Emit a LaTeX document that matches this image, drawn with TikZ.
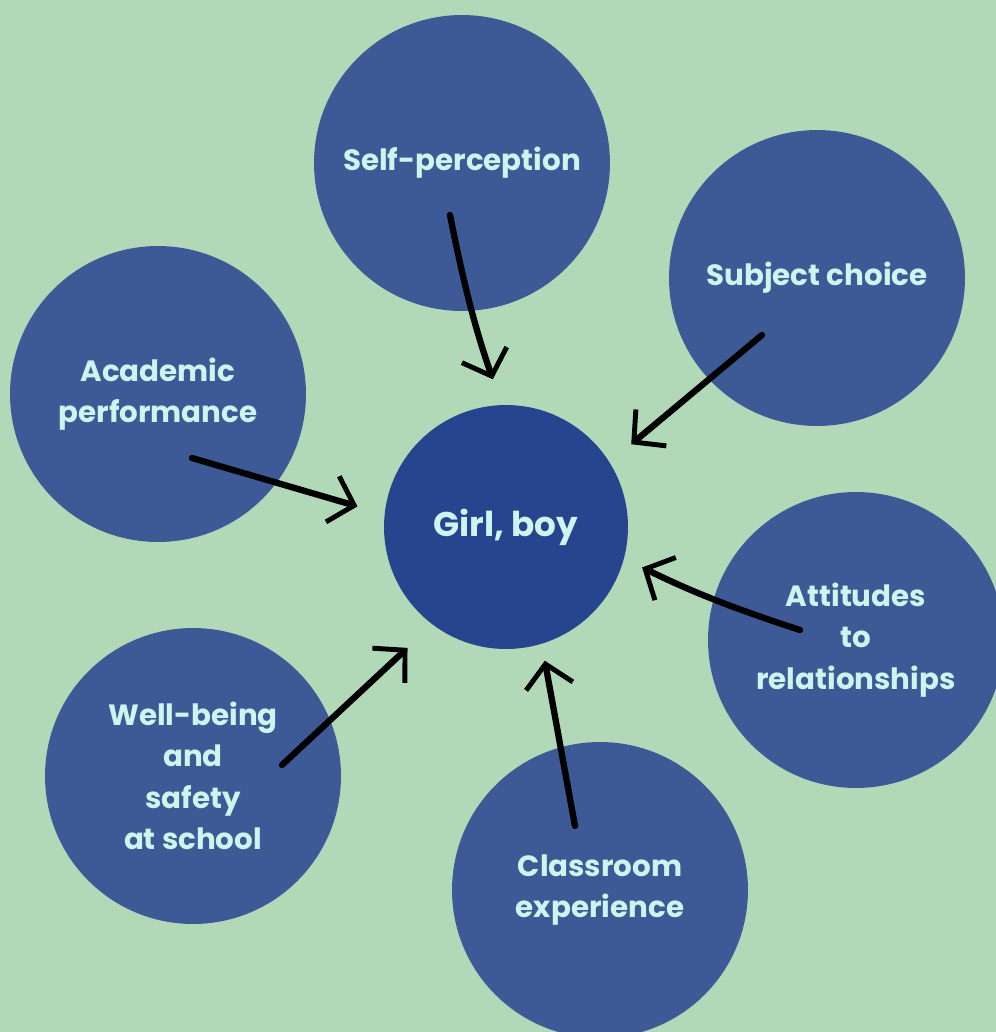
\documentclass[tikz,border=0pt]{standalone}
\usepackage{fontspec}
\setmainfont{Poppins}
\usetikzlibrary{arrows.meta, calc}
\definecolor{bggreen}{RGB}{177,217,184}
\definecolor{ringblue}{RGB}{61,90,150}
\definecolor{coreblue}{RGB}{39,68,143}
\definecolor{textcyan}{RGB}{206,244,238}

\begin{document}
\begin{tikzpicture}[x=0.02cm, y=-0.02cm,
  topic/.style={circle, fill=ringblue, minimum size=5.92cm, inner sep=0pt,
    text=textcyan, align=center, font=\fontsize{16.7}{23.6}\selectfont\bfseries},
  core/.style={circle, fill=coreblue, minimum size=4.88cm, inner sep=0pt,
    text=textcyan, align=center, font=\fontsize{19.5}{24}\selectfont\bfseries},
  influence/.style={line width=3.6pt, line cap=round,
    -{Straight Barb[length=0.45cm, width=0.95cm, line width=2.8pt]}}]

  \path[use as bounding box, fill=bggreen] (0,0) rectangle (996,1032);
  \clip (0,0) rectangle (996,1032);

  % outer factors
  \node[topic] (self)  at (462,163) {Self-perception};
  \node[topic] (subj)  at (817,278) {Subject choice};
  \node[topic] (acad)  at (158,394) {Academic\\performance};
  \node[topic] (att)   at (856,640) {Attitudes\\to\\relationships};
  \node[topic] (well)  at (193,776) {Well-being\\and\\safety\\at school};
  \node[topic] (class) at (600,890) {Classroom\\experience};

  % centre
  \node[core] (girl) at (506,527) {Girl, boy};

  % arrow starts
  \coordinate (s1) at ($(self)+(-12,52)$);
  \coordinate (s2) at ($(subj)+(-55,57)$);
  \coordinate (s3) at ($(acad)+(34,64)$);
  \coordinate (s4) at ($(att)+(-56,-10)$);
  \coordinate (s5) at ($(well)+(89,-11)$);
  \coordinate (s6) at ($(class)+(-25,-64)$);

  \draw[influence, shorten >=0.54cm] (s1) to[bend right=4] (girl.92);
  \draw[influence, shorten >=0.56cm] (s2) -- (girl.32);
  \draw[influence, shorten >=0.56cm] (s3) -- (girl.174);
  \draw[influence, shorten >=0.40cm] (s4) to[bend left=4] (girl.345);
  \draw[influence, shorten >=0.68cm] (s5) -- (girl.233);
  \draw[influence, shorten >=0.34cm] (s6) -- (girl.287);
\end{tikzpicture}
\end{document}
